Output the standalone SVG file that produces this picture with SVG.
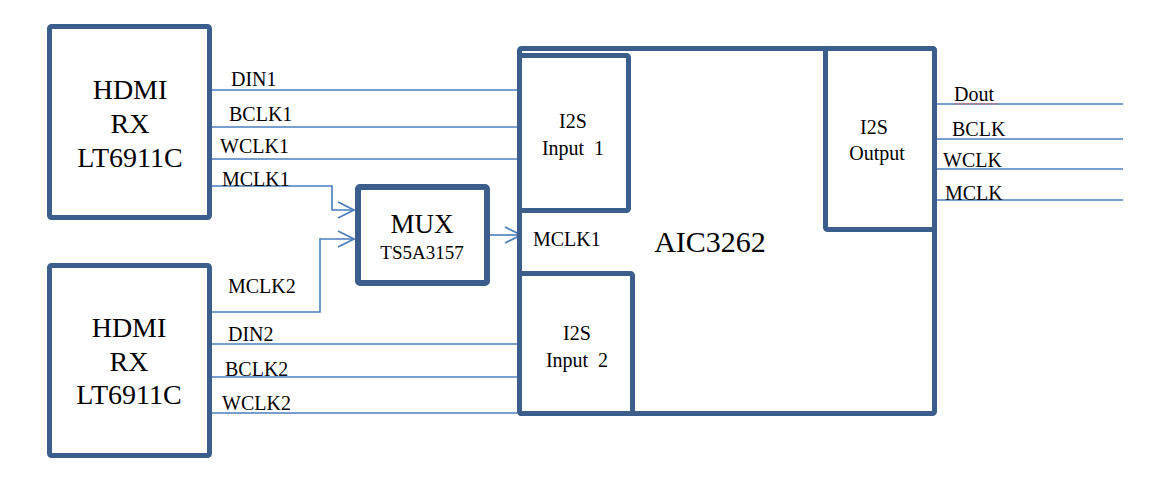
<svg xmlns="http://www.w3.org/2000/svg" width="1160" height="495" viewBox="0 0 1160 495">
<style>
.box{fill:none;stroke:#3B5E8C;stroke-width:5;stroke-linejoin:round}
.wire{fill:none;stroke:#4A7EBB;stroke-width:1.6}
.t{font-family:'Liberation Serif','Times New Roman',serif;fill:#000}
.big{font-size:28px;text-anchor:middle}
.mid{font-size:20px;text-anchor:middle}
.lbl{font-size:20px}
</style>
<defs>
<marker id="arr" viewBox="0 0 18 18" refX="17" refY="9" markerWidth="18" markerHeight="18" markerUnits="userSpaceOnUse" orient="auto">
<path d="M1,1 L17,9 L1,17" fill="none" stroke="#4A7EBB" stroke-width="1.6"/>
</marker>
</defs>
<rect width="1160" height="495" fill="#fff"/>

<g id="connectors">
<path class="wire" d="M212,90 H517"/>
<path class="wire" d="M212,127 H517"/>
<path class="wire" d="M212,159 H517"/>
<path class="wire" d="M212,186 H332 V210 H354" marker-end="url(#arr)"/>
<path class="wire" d="M212,312 H320 V239 H354" marker-end="url(#arr)"/>
<path class="wire" d="M490,235 H521" marker-end="url(#arr)"/>
<path class="wire" d="M212,344 H517"/>
<path class="wire" d="M212,377 H517"/>
<path class="wire" d="M212,413 H517"/>
<path class="wire" d="M937,104 H1123"/>
<path class="wire" d="M937,139 H1123"/>
<path class="wire" d="M937,169 H1123"/>
<path class="wire" d="M937,200 H1123"/>
<text class="t lbl" x="231" y="86">DIN1</text>
<text class="t lbl" x="229" y="121">BCLK1</text>
<text class="t lbl" x="220" y="153">WCLK1</text>
<text class="t lbl" x="222" y="186">MCLK1</text>
<text class="t lbl" x="228" y="293">MCLK2</text>
<text class="t lbl" x="228" y="341">DIN2</text>
<text class="t lbl" x="225" y="376">BCLK2</text>
<text class="t lbl" x="222" y="410">WCLK2</text>
<text class="t lbl" x="954" y="101">Dout</text>
<path d="M954,104.5 l2,-1.5 l2,1.5 l2,-1.5 l2,1.5 l2,-1.5 l2,1.5 l2,-1.5 l2,1.5 l2,-1.5 l2,1.5 l2,-1.5 l2,1.5 l2,-1.5 l2,1.5 l2,-1.5 l2,1.5 l2,-1.5 l2,1.5 l2,-1.5 l2,1.5 l2,-1.5 l2,1.5" fill="none" stroke="#E06070" stroke-width="0.8"/>
<text class="t lbl" x="952" y="136">BCLK</text>
<text class="t lbl" x="943" y="167">WCLK</text>
<text class="t lbl" x="945" y="200">MCLK</text>
</g>

<g id="hdmi1">
<rect class="box" x="49.5" y="26.5" width="160" height="191" rx="2"/>
<text class="t big" x="130" y="99">HDMI</text>
<text class="t big" x="130" y="133">RX</text>
<text class="t big" x="130" y="167">LT6911C</text>
</g>

<g id="hdmi2">
<rect class="box" x="49.5" y="265.5" width="160" height="190" rx="2"/>
<text class="t big" x="129" y="337">HDMI</text>
<text class="t big" x="129" y="371">RX</text>
<text class="t big" x="129" y="404">LT6911C</text>
</g>

<g id="mux">
<rect class="box" x="358" y="187" width="129" height="96" rx="2" style="stroke-width:6"/>
<text class="t" x="422" y="233" font-size="27" text-anchor="middle">MUX</text>
<text class="t" x="422" y="259" font-size="19" text-anchor="middle">TS5A3157</text>
</g>

<g id="aic3262">
<rect class="box" x="519.5" y="48.5" width="415" height="365" rx="2"/>
<text class="t" x="710" y="252" font-size="30" text-anchor="middle">AIC3262</text>
<text class="t" x="533" y="246" font-size="20">MCLK1</text>
</g>

<g id="i2s_in1">
<rect class="box" x="519.5" y="55.5" width="109" height="155" rx="2"/>
<text class="t mid" x="573" y="128">I2S</text>
<text class="t mid" x="573" y="155" xml:space="preserve">Input  1</text>
</g>

<g id="i2s_in2">
<rect class="box" x="519.5" y="273.5" width="113" height="140" rx="2"/>
<text class="t mid" x="577" y="340">I2S</text>
<text class="t mid" x="577" y="367" xml:space="preserve">Input  2</text>
</g>

<g id="i2s_out">
<rect class="box" x="825.5" y="48.5" width="109" height="181" rx="2"/>
<text class="t mid" x="874" y="134">I2S</text>
<text class="t mid" x="877" y="160">Output</text>
</g>
</svg>
